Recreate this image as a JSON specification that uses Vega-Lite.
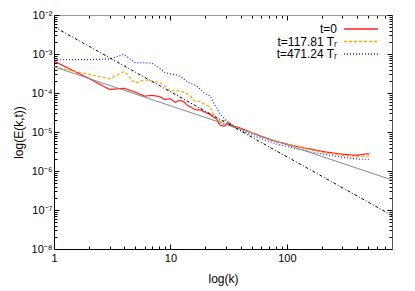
{
  "$schema": "https://vega.github.io/schema/vega-lite/v6.json",
  "width": 338,
  "height": 234,
  "autosize": {"type": "none"},
  "padding": {"left": 54, "top": 15, "right": 23, "bottom": 42},
  "background": "white",
  "config": {
    "view": {"stroke": null},
    "font": "Liberation Sans",
    "axis": {"grid": false, "labelFont": "Liberation Sans", "titleFont": "Liberation Sans", "labelColor": "black", "titleColor": "black", "titleFontWeight": "normal", "domainColor": "black", "tickColor": "black"}
  },
  "datasets": {
    "spec": [
      {"k": 1, "E": 6.6e-4, "s": "t=0"},
      {"k": 2, "E": 2.35e-4, "s": "t=0"},
      {"k": 3, "E": 1.23e-4, "s": "t=0"},
      {"k": 4, "E": 1.32e-4, "s": "t=0"},
      {"k": 5, "E": 1.05e-4, "s": "t=0"},
      {"k": 6, "E": 8.3e-5, "s": "t=0"},
      {"k": 7, "E": 8.7e-5, "s": "t=0"},
      {"k": 8, "E": 8.1e-5, "s": "t=0"},
      {"k": 9, "E": 6.8e-5, "s": "t=0"},
      {"k": 10, "E": 7.1e-5, "s": "t=0"},
      {"k": 11, "E": 5.75e-5, "s": "t=0"},
      {"k": 12, "E": 6.5e-5, "s": "t=0"},
      {"k": 13, "E": 6.0e-5, "s": "t=0"},
      {"k": 14, "E": 4.8e-5, "s": "t=0"},
      {"k": 15, "E": 4.4e-5, "s": "t=0"},
      {"k": 16, "E": 3.8e-5, "s": "t=0"},
      {"k": 17, "E": 3.7e-5, "s": "t=0"},
      {"k": 18, "E": 3.7e-5, "s": "t=0"},
      {"k": 19, "E": 3.4e-5, "s": "t=0"},
      {"k": 20, "E": 3.16e-5, "s": "t=0"},
      {"k": 21, "E": 3.0e-5, "s": "t=0"},
      {"k": 22, "E": 2.8e-5, "s": "t=0"},
      {"k": 23, "E": 2.5e-5, "s": "t=0"},
      {"k": 24, "E": 2.3e-5, "s": "t=0"},
      {"k": 25, "E": 2.14e-5, "s": "t=0"},
      {"k": 26, "E": 1.66e-5, "s": "t=0"},
      {"k": 27, "E": 1.48e-5, "s": "t=0"},
      {"k": 28, "E": 1.45e-5, "s": "t=0"},
      {"k": 29, "E": 1.41e-5, "s": "t=0"},
      {"k": 30, "E": 1.5e-5, "s": "t=0"},
      {"k": 31, "E": 1.62e-5, "s": "t=0"},
      {"k": 32, "E": 1.66e-5, "s": "t=0"},
      {"k": 33, "E": 1.58e-5, "s": "t=0"},
      {"k": 34, "E": 1.48e-5, "s": "t=0"},
      {"k": 35, "E": 1.41e-5, "s": "t=0"},
      {"k": 36, "E": 1.38e-5, "s": "t=0"},
      {"k": 38, "E": 1.32e-5, "s": "t=0"},
      {"k": 40, "E": 1.26e-5, "s": "t=0"},
      {"k": 45, "E": 1.1e-5, "s": "t=0"},
      {"k": 50, "E": 9.5e-6, "s": "t=0"},
      {"k": 55, "E": 8.7e-6, "s": "t=0"},
      {"k": 60, "E": 7.6e-6, "s": "t=0"},
      {"k": 65, "E": 7.2e-6, "s": "t=0"},
      {"k": 70, "E": 6.5e-6, "s": "t=0"},
      {"k": 80, "E": 5.75e-6, "s": "t=0"},
      {"k": 90, "E": 5.3e-6, "s": "t=0"},
      {"k": 100, "E": 4.9e-6, "s": "t=0"},
      {"k": 110, "E": 4.6e-6, "s": "t=0"},
      {"k": 120, "E": 4.3e-6, "s": "t=0"},
      {"k": 130, "E": 4.1e-6, "s": "t=0"},
      {"k": 140, "E": 3.9e-6, "s": "t=0"},
      {"k": 160, "E": 3.65e-6, "s": "t=0"},
      {"k": 180, "E": 3.4e-6, "s": "t=0"},
      {"k": 200, "E": 3.2e-6, "s": "t=0"},
      {"k": 220, "E": 3.05e-6, "s": "t=0"},
      {"k": 240, "E": 2.95e-6, "s": "t=0"},
      {"k": 260, "E": 2.85e-6, "s": "t=0"},
      {"k": 280, "E": 2.75e-6, "s": "t=0"},
      {"k": 300, "E": 2.7e-6, "s": "t=0"},
      {"k": 320, "E": 2.63e-6, "s": "t=0"},
      {"k": 340, "E": 2.62e-6, "s": "t=0"},
      {"k": 360, "E": 2.57e-6, "s": "t=0"},
      {"k": 380, "E": 2.55e-6, "s": "t=0"},
      {"k": 400, "E": 2.52e-6, "s": "t=0"},
      {"k": 420, "E": 2.6e-6, "s": "t=0"},
      {"k": 440, "E": 2.63e-6, "s": "t=0"},
      {"k": 460, "E": 2.7e-6, "s": "t=0"},
      {"k": 480, "E": 2.75e-6, "s": "t=0"},
      {"k": 500, "E": 2.72e-6, "s": "t=0"},
      {"k": 512, "E": 2.8e-6, "s": "t=0"},

      {"k": 1, "E": 4.7e-4, "s": "t=117.81 Tᵣ"},
      {"k": 2, "E": 3.0e-4, "s": "t=117.81 Tᵣ"},
      {"k": 3, "E": 2.3e-4, "s": "t=117.81 Tᵣ"},
      {"k": 4, "E": 3.55e-4, "s": "t=117.81 Tᵣ"},
      {"k": 5, "E": 1.78e-4, "s": "t=117.81 Tᵣ"},
      {"k": 6, "E": 2.2e-4, "s": "t=117.81 Tᵣ"},
      {"k": 7, "E": 2.0e-4, "s": "t=117.81 Tᵣ"},
      {"k": 8, "E": 1.9e-4, "s": "t=117.81 Tᵣ"},
      {"k": 9, "E": 1.5e-4, "s": "t=117.81 Tᵣ"},
      {"k": 10, "E": 1.1e-4, "s": "t=117.81 Tᵣ"},
      {"k": 11, "E": 1.2e-4, "s": "t=117.81 Tᵣ"},
      {"k": 12, "E": 1.1e-4, "s": "t=117.81 Tᵣ"},
      {"k": 13, "E": 1.05e-4, "s": "t=117.81 Tᵣ"},
      {"k": 14, "E": 9.5e-5, "s": "t=117.81 Tᵣ"},
      {"k": 15, "E": 8.3e-5, "s": "t=117.81 Tᵣ"},
      {"k": 16, "E": 6.3e-5, "s": "t=117.81 Tᵣ"},
      {"k": 17, "E": 6.0e-5, "s": "t=117.81 Tᵣ"},
      {"k": 18, "E": 6.1e-5, "s": "t=117.81 Tᵣ"},
      {"k": 19, "E": 5.5e-5, "s": "t=117.81 Tᵣ"},
      {"k": 20, "E": 5.0e-5, "s": "t=117.81 Tᵣ"},
      {"k": 21, "E": 4.7e-5, "s": "t=117.81 Tᵣ"},
      {"k": 22, "E": 4.4e-5, "s": "t=117.81 Tᵣ"},
      {"k": 23, "E": 3.16e-5, "s": "t=117.81 Tᵣ"},
      {"k": 24, "E": 2.5e-5, "s": "t=117.81 Tᵣ"},
      {"k": 25, "E": 2.3e-5, "s": "t=117.81 Tᵣ"},
      {"k": 26, "E": 2.0e-5, "s": "t=117.81 Tᵣ"},
      {"k": 27, "E": 1.82e-5, "s": "t=117.81 Tᵣ"},
      {"k": 28, "E": 1.9e-5, "s": "t=117.81 Tᵣ"},
      {"k": 29, "E": 2.0e-5, "s": "t=117.81 Tᵣ"},
      {"k": 30, "E": 2.0e-5, "s": "t=117.81 Tᵣ"},
      {"k": 32, "E": 1.74e-5, "s": "t=117.81 Tᵣ"},
      {"k": 34, "E": 1.55e-5, "s": "t=117.81 Tᵣ"},
      {"k": 36, "E": 1.38e-5, "s": "t=117.81 Tᵣ"},
      {"k": 38, "E": 1.29e-5, "s": "t=117.81 Tᵣ"},
      {"k": 40, "E": 1.2e-5, "s": "t=117.81 Tᵣ"},
      {"k": 45, "E": 1.07e-5, "s": "t=117.81 Tᵣ"},
      {"k": 50, "E": 9.5e-6, "s": "t=117.81 Tᵣ"},
      {"k": 60, "E": 7.8e-6, "s": "t=117.81 Tᵣ"},
      {"k": 70, "E": 6.6e-6, "s": "t=117.81 Tᵣ"},
      {"k": 80, "E": 5.75e-6, "s": "t=117.81 Tᵣ"},
      {"k": 90, "E": 5.25e-6, "s": "t=117.81 Tᵣ"},
      {"k": 100, "E": 4.9e-6, "s": "t=117.81 Tᵣ"},
      {"k": 120, "E": 4.27e-6, "s": "t=117.81 Tᵣ"},
      {"k": 140, "E": 3.8e-6, "s": "t=117.81 Tᵣ"},
      {"k": 160, "E": 3.47e-6, "s": "t=117.81 Tᵣ"},
      {"k": 180, "E": 3.24e-6, "s": "t=117.81 Tᵣ"},
      {"k": 200, "E": 3.0e-6, "s": "t=117.81 Tᵣ"},
      {"k": 240, "E": 2.75e-6, "s": "t=117.81 Tᵣ"},
      {"k": 280, "E": 2.57e-6, "s": "t=117.81 Tᵣ"},
      {"k": 320, "E": 2.45e-6, "s": "t=117.81 Tᵣ"},
      {"k": 360, "E": 2.34e-6, "s": "t=117.81 Tᵣ"},
      {"k": 400, "E": 2.29e-6, "s": "t=117.81 Tᵣ"},
      {"k": 440, "E": 2.32e-6, "s": "t=117.81 Tᵣ"},
      {"k": 480, "E": 2.4e-6, "s": "t=117.81 Tᵣ"},
      {"k": 512, "E": 2.4e-6, "s": "t=117.81 Tᵣ"},

      {"k": 1, "E": 7.1e-4, "s": "t=471.24 Tᵣ"},
      {"k": 2, "E": 7.2e-4, "s": "t=471.24 Tᵣ"},
      {"k": 3, "E": 7.4e-4, "s": "t=471.24 Tᵣ"},
      {"k": 4, "E": 9.8e-4, "s": "t=471.24 Tᵣ"},
      {"k": 5, "E": 5.9e-4, "s": "t=471.24 Tᵣ"},
      {"k": 6, "E": 6.0e-4, "s": "t=471.24 Tᵣ"},
      {"k": 7, "E": 5.75e-4, "s": "t=471.24 Tᵣ"},
      {"k": 8, "E": 4.4e-4, "s": "t=471.24 Tᵣ"},
      {"k": 9, "E": 3.3e-4, "s": "t=471.24 Tᵣ"},
      {"k": 10, "E": 3.1e-4, "s": "t=471.24 Tᵣ"},
      {"k": 11, "E": 2.95e-4, "s": "t=471.24 Tᵣ"},
      {"k": 12, "E": 2.7e-4, "s": "t=471.24 Tᵣ"},
      {"k": 13, "E": 2.3e-4, "s": "t=471.24 Tᵣ"},
      {"k": 14, "E": 1.9e-4, "s": "t=471.24 Tᵣ"},
      {"k": 15, "E": 1.74e-4, "s": "t=471.24 Tᵣ"},
      {"k": 16, "E": 1.62e-4, "s": "t=471.24 Tᵣ"},
      {"k": 17, "E": 1.48e-4, "s": "t=471.24 Tᵣ"},
      {"k": 18, "E": 1.26e-4, "s": "t=471.24 Tᵣ"},
      {"k": 19, "E": 1.07e-4, "s": "t=471.24 Tᵣ"},
      {"k": 20, "E": 9.5e-5, "s": "t=471.24 Tᵣ"},
      {"k": 21, "E": 8.9e-5, "s": "t=471.24 Tᵣ"},
      {"k": 22, "E": 8.3e-5, "s": "t=471.24 Tᵣ"},
      {"k": 23, "E": 6.3e-5, "s": "t=471.24 Tᵣ"},
      {"k": 24, "E": 5.0e-5, "s": "t=471.24 Tᵣ"},
      {"k": 25, "E": 4.2e-5, "s": "t=471.24 Tᵣ"},
      {"k": 26, "E": 3.3e-5, "s": "t=471.24 Tᵣ"},
      {"k": 27, "E": 2.8e-5, "s": "t=471.24 Tᵣ"},
      {"k": 28, "E": 2.5e-5, "s": "t=471.24 Tᵣ"},
      {"k": 30, "E": 2.0e-5, "s": "t=471.24 Tᵣ"},
      {"k": 32, "E": 1.66e-5, "s": "t=471.24 Tᵣ"},
      {"k": 34, "E": 1.45e-5, "s": "t=471.24 Tᵣ"},
      {"k": 36, "E": 1.32e-5, "s": "t=471.24 Tᵣ"},
      {"k": 38, "E": 1.23e-5, "s": "t=471.24 Tᵣ"},
      {"k": 40, "E": 1.12e-5, "s": "t=471.24 Tᵣ"},
      {"k": 45, "E": 9.5e-6, "s": "t=471.24 Tᵣ"},
      {"k": 50, "E": 8.3e-6, "s": "t=471.24 Tᵣ"},
      {"k": 60, "E": 6.8e-6, "s": "t=471.24 Tᵣ"},
      {"k": 70, "E": 5.75e-6, "s": "t=471.24 Tᵣ"},
      {"k": 80, "E": 5.0e-6, "s": "t=471.24 Tᵣ"},
      {"k": 90, "E": 4.57e-6, "s": "t=471.24 Tᵣ"},
      {"k": 100, "E": 4.27e-6, "s": "t=471.24 Tᵣ"},
      {"k": 120, "E": 3.7e-6, "s": "t=471.24 Tᵣ"},
      {"k": 140, "E": 3.4e-6, "s": "t=471.24 Tᵣ"},
      {"k": 160, "E": 3.1e-6, "s": "t=471.24 Tᵣ"},
      {"k": 180, "E": 2.9e-6, "s": "t=471.24 Tᵣ"},
      {"k": 200, "E": 2.75e-6, "s": "t=471.24 Tᵣ"},
      {"k": 240, "E": 2.5e-6, "s": "t=471.24 Tᵣ"},
      {"k": 280, "E": 2.34e-6, "s": "t=471.24 Tᵣ"},
      {"k": 320, "E": 2.2e-6, "s": "t=471.24 Tᵣ"},
      {"k": 360, "E": 2.1e-6, "s": "t=471.24 Tᵣ"},
      {"k": 400, "E": 2.04e-6, "s": "t=471.24 Tᵣ"},
      {"k": 440, "E": 2.0e-6, "s": "t=471.24 Tᵣ"},
      {"k": 480, "E": 2.0e-6, "s": "t=471.24 Tᵣ"},
      {"k": 512, "E": 2.0e-6, "s": "t=471.24 Tᵣ"}
    ],
    "slope53": [
      {"k": 1, "E": 5.0e-3},
      {"k": 800, "E": 7.26e-8}
    ],
    "slope1": [
      {"k": 1, "E": 4.7e-4},
      {"k": 800, "E": 5.9e-7}
    ]
  },
  "layer": [
    {
      "data": {"name": "spec"},
      "mark": {"type": "line", "strokeWidth": 1.2, "clip": true},
      "encoding": {
        "x": {
          "field": "k", "type": "quantitative",
          "scale": {"type": "log", "domain": [1, 800], "nice": false},
          "axis": {
            "orient": "bottom", "title": "log(k)", "titleFontSize": 12, "titlePadding": 8,
            "labelFontSize": 11, "labelPadding": 8, "labelFlush": false, "labelOverlap": false,
            "values": [1,2,3,4,5,6,7,8,9,10,20,30,40,50,60,70,80,90,100,200,300,400,500,600,700,800],
            "labelExpr": "datum.value == 1 ? '1' : datum.value == 10 ? '10' : datum.value == 100 ? '100' : ''",
            "tickSize": {"condition": {"test": "datum.value == 1 || datum.value == 10 || datum.value == 100", "value": -5}, "value": -3}
          }
        },
        "y": {
          "field": "E", "type": "quantitative",
          "scale": {"type": "log", "domain": [1e-8, 1e-2], "nice": false},
          "axis": {
            "orient": "left", "title": "log(E(k,t))", "titleFontSize": 12, "titlePadding": 6,
            "labelFontSize": 11, "labelPadding": 7, "labelFlush": false, "labelOverlap": false,
            "values": [1e-8,2e-8,3e-8,4e-8,5e-8,6e-8,7e-8,8e-8,9e-8,1e-7,2e-7,3e-7,4e-7,5e-7,6e-7,7e-7,8e-7,9e-7,1e-6,2e-6,3e-6,4e-6,5e-6,6e-6,7e-6,8e-6,9e-6,1e-5,2e-5,3e-5,4e-5,5e-5,6e-5,7e-5,8e-5,9e-5,1e-4,2e-4,3e-4,4e-4,5e-4,6e-4,7e-4,8e-4,9e-4,1e-3,2e-3,3e-3,4e-3,5e-3,6e-3,7e-3,8e-3,9e-3,1e-2],
            "labelExpr": "abs(log(datum.value)/LN10 - round(log(datum.value)/LN10)) < 0.01 ? '10⁻' + substring('⁰¹²³⁴⁵⁶⁷⁸⁹', round(-log(datum.value)/LN10), round(-log(datum.value)/LN10) + 1) : ''",
            "tickSize": {"condition": {"test": "abs(log(datum.value)/LN10 - round(log(datum.value)/LN10)) < 0.01", "value": -5}, "value": -3}
          }
        },
        "color": {
          "field": "s", "type": "nominal",
          "scale": {"domain": ["t=0", "t=117.81 Tᵣ", "t=471.24 Tᵣ"], "range": ["#ff2020", "#ffa500", "#1a1aff"]},
          "legend": {
            "title": null, "orient": "none", "legendX": 301, "legendY": 8,
            "symbolType": "M-3.4,0H3.4", "symbolSize": 100, "symbolStrokeWidth": 1.5,
            "labelFontSize": 12, "labelFont": "Liberation Sans", "labelColor": "black",
            "labelAlign": "right", "labelOffset": -30, "rowPadding": 0.5
          }
        },
        "strokeDash": {
          "field": "s", "type": "nominal",
          "scale": {"domain": ["t=0", "t=117.81 Tᵣ", "t=471.24 Tᵣ"], "range": [[1, 0], [3, 2], [1, 2]]},
          "legend": {
            "title": null, "orient": "none", "legendX": 301, "legendY": 8,
            "symbolType": "M-3.4,0H3.4", "symbolSize": 100, "symbolStrokeWidth": 1.5,
            "labelFontSize": 12, "labelFont": "Liberation Sans", "labelColor": "black",
            "labelAlign": "right", "labelOffset": -30, "rowPadding": 0.5
          }
        }
      }
    },
    {
      "data": {"name": "slope1"},
      "mark": {"type": "line", "color": "#888888", "strokeWidth": 1, "clip": true},
      "encoding": {
        "x": {"field": "k", "type": "quantitative", "axis": null},
        "y": {"field": "E", "type": "quantitative", "axis": null}
      }
    },
    {
      "data": {"name": "slope53"},
      "mark": {"type": "line", "color": "#000000", "strokeWidth": 1, "strokeDash": [3, 2, 1, 2], "clip": true},
      "encoding": {
        "x": {
          "field": "k", "type": "quantitative",
          "axis": {
            "orient": "top", "title": null, "labels": false, "domainColor": "#999999",
            "values": [1,2,3,4,5,6,7,8,9,10,20,30,40,50,60,70,80,90,100,200,300,400,500,600,700,800],
            "tickSize": {"condition": {"test": "datum.value == 1 || datum.value == 10 || datum.value == 100", "value": -5}, "value": -3}
          }
        },
        "y": {
          "field": "E", "type": "quantitative",
          "axis": {
            "orient": "right", "title": null, "labels": false, "domainColor": "#555555",
            "values": [1e-8,2e-8,3e-8,4e-8,5e-8,6e-8,7e-8,8e-8,9e-8,1e-7,2e-7,3e-7,4e-7,5e-7,6e-7,7e-7,8e-7,9e-7,1e-6,2e-6,3e-6,4e-6,5e-6,6e-6,7e-6,8e-6,9e-6,1e-5,2e-5,3e-5,4e-5,5e-5,6e-5,7e-5,8e-5,9e-5,1e-4,2e-4,3e-4,4e-4,5e-4,6e-4,7e-4,8e-4,9e-4,1e-3,2e-3,3e-3,4e-3,5e-3,6e-3,7e-3,8e-3,9e-3,1e-2],
            "tickSize": {"condition": {"test": "abs(log(datum.value)/LN10 - round(log(datum.value)/LN10)) < 0.01", "value": -5}, "value": -3}
          }
        }
      }
    }
  ],
  "resolve": {"axis": {"x": "independent", "y": "independent"}}
}
